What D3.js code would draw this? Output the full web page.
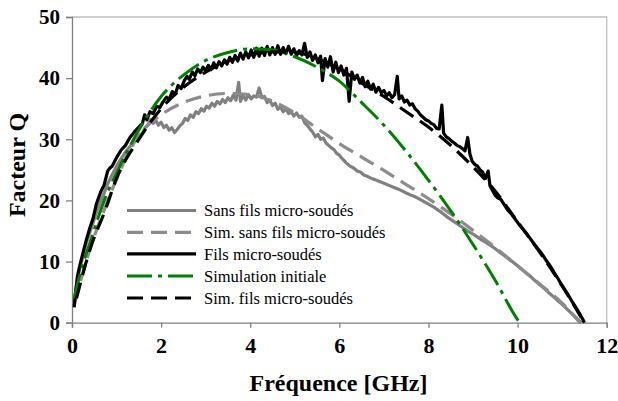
<!DOCTYPE html>
<html><head><meta charset="utf-8">
<script src="https://cdn.jsdelivr.net/npm/d3@7"></script>
<style>body{margin:0;background:#fff}svg{display:block}
svg text{font-family:'Liberation Serif','Times New Roman',serif !important}
</style>
</head><body>
<svg id="c" width="618" height="401"></svg>
<script>
const xTicks = [0,2,4,6,8,10,12];
const yTicks = [0,10,20,30,40,50];
const xTitle = "Fréquence [GHz]";
const yTitle = "Facteur Q";
const seriesNames = ["Sans fils micro-soudés","Sim. sans fils micro-soudés","Fils micro-soudés","Simulation initiale","Sim. fils micro-soudés"];

// [GHz, Q]
const sansFils = [[0.05,3],[0.08,5],[0.12,7],[0.18,9],[0.25,11],[0.32,13],[0.4,14.8],[0.48,16.5],[0.56,18.3],[0.64,19.8],[0.72,21.2],[0.8,22.7],[0.9,24.2],[1.0,25.6],[1.1,26.8],[1.2,27.9],[1.3,28.8],[1.4,29.7],[1.5,30.4],[1.58,31],[1.64,31.9],[1.7,32.3],[1.76,33.2],[1.82,32.6],[1.88,33.1],[1.94,32.3],[2.0,32.8],[2.06,31.9],[2.12,32.3],[2.18,31.5],[2.24,31.9],[2.3,31.1],[2.36,31.6],[2.42,32.2],[2.48,32.6],[2.54,33.4],[2.6,33.1],[2.66,34],[2.72,33.6],[2.78,34.5],[2.84,34.2],[2.9,35],[2.96,34.6],[3.02,35.4],[3.08,35.1],[3.14,35.9],[3.2,35.4],[3.26,36.2],[3.32,35.8],[3.38,36.5],[3.44,36],[3.5,36.8],[3.56,36.3],[3.62,37.2],[3.68,36.4],[3.74,39.3],[3.78,36.2],[3.84,37.2],[3.9,36.4],[3.96,37.3],[4.02,36.6],[4.08,37.1],[4.14,36.9],[4.2,38.4],[4.26,36.8],[4.32,37],[4.38,36],[4.44,36.4],[4.5,35.5],[4.56,35.9],[4.62,34.9],[4.68,35.3],[4.74,34.5],[4.8,35],[4.86,34.2],[4.92,34.5],[4.98,33.8],[5.04,34.3],[5.1,33.6],[5.16,33.8],[5.22,32.7],[5.28,32.3],[5.34,31.7],[5.4,31.2],[5.46,30.4],[5.52,30.8],[5.58,30],[5.64,30.2],[5.7,29.4],[5.76,29],[5.82,28.6],[5.88,28.3],[5.94,27.7],[6.0,27.4],[6.08,26.7],[6.16,26.1],[6.24,25.6],[6.32,25.3],[6.4,24.8],[6.48,24.6],[6.56,24.1],[6.64,23.9],[6.72,23.6],[6.8,23.4],[6.9,23.1],[7.0,22.8],[7.1,22.5],[7.2,22.2],[7.3,21.9],[7.4,21.6],[7.5,21.2],[7.6,20.9],[7.7,20.6],[7.8,20.2],[7.9,19.8],[8.0,19.4],[8.1,19],[8.2,18.5],[8.3,18],[8.4,17.4],[8.5,16.9],[8.6,16.4],[8.7,15.9],[8.8,15.4],[8.9,14.9],[9.0,14.5],[9.1,14],[9.2,13.5],[9.3,13.1],[9.4,12.6],[9.5,12.1],[9.6,11.5],[9.7,11],[9.8,10.4],[9.9,9.9],[10.0,9.3],[10.1,8.7],[10.2,8.1],[10.3,7.5],[10.4,6.8],[10.5,6.2],[10.6,5.6],[10.7,4.9],[10.8,4.3],[10.9,3.6],[11.0,3],[11.1,2.3],[11.2,1.6],[11.3,0.9],[11.4,0.2],[11.43,0]];

const simSansFils = [[0.05,3],[0.2,7],[0.4,12],[0.7,18],[1.0,23.5],[1.3,28.3],[1.6,31.5],[2.0,34],[2.5,36],[3.0,37.1],[3.5,37.5],[4.0,37.3],[4.5,36.2],[5.0,34.3],[5.5,31.8],[6.0,29.3],[6.5,27.1],[7.0,24.9],[7.5,22.6],[8.0,20.3],[8.5,17.8],[9.0,15.1],[9.5,12.3],[10.0,9.3],[10.5,6.3],[11.0,3.2],[11.4,0]];

const fils = [[0.05,2.5],[0.08,5],[0.12,7.5],[0.18,9.5],[0.25,11.5],[0.32,13.5],[0.4,15.5],[0.47,17],[0.55,19.5],[0.6,20.5],[0.65,21.5],[0.72,22.5],[0.8,24.8],[0.85,25.3],[0.9,25.6],[1.0,27],[1.1,28.2],[1.2,29],[1.3,30.3],[1.4,31.2],[1.5,32],[1.58,32.6],[1.63,34],[1.68,33.2],[1.75,34.5],[1.82,34.2],[1.9,35.4],[1.97,35.2],[2.05,36.2],[2.12,36.9],[2.18,36.5],[2.25,37.8],[2.32,37.4],[2.38,38.8],[2.45,38.3],[2.52,39.6],[2.58,40.3],[2.63,39.8],[2.7,41],[2.76,40.4],[2.82,41.5],[2.88,40.9],[2.94,41.8],[3.0,41.2],[3.06,42.1],[3.12,41.4],[3.18,42.5],[3.24,41.7],[3.3,42.7],[3.36,42],[3.42,43],[3.48,42.3],[3.54,43.4],[3.6,42.6],[3.66,43.7],[3.72,42.8],[3.78,44.1],[3.84,43.1],[3.9,44.3],[3.96,43.3],[4.02,44.6],[4.08,43.4],[4.14,44.9],[4.2,43.6],[4.26,44.9],[4.32,43.7],[4.38,45.2],[4.44,43.8],[4.5,45],[4.56,43.9],[4.62,45.3],[4.68,43.9],[4.74,45],[4.8,44],[4.86,45.2],[4.92,43.9],[4.98,44.8],[5.04,43.7],[5.1,44.5],[5.16,43.8],[5.22,45.7],[5.28,43.4],[5.34,44.3],[5.4,42.9],[5.46,43.8],[5.52,42.5],[5.58,43.6],[5.62,39.6],[5.68,43.2],[5.74,41.8],[5.8,43.5],[5.86,41],[5.92,42.6],[5.98,40.9],[6.04,42],[6.1,40.5],[6.16,41.6],[6.22,36.2],[6.28,41],[6.34,39.8],[6.4,40.5],[6.46,39.2],[6.52,40.1],[6.58,38.6],[6.64,39.5],[6.7,38.2],[6.76,39],[6.82,37.7],[6.88,38.5],[6.94,37.6],[7.0,38],[7.06,37.1],[7.12,37.6],[7.18,36.8],[7.24,37.3],[7.3,40.3],[7.34,36.6],[7.4,37.1],[7.46,36.1],[7.52,36.4],[7.58,35.6],[7.64,35.8],[7.7,35],[7.76,34.6],[7.82,34],[7.88,33.6],[7.94,33.2],[8.0,33],[8.06,32.6],[8.12,32.4],[8.18,31.8],[8.24,31.7],[8.3,35.6],[8.34,31],[8.4,30.4],[8.46,30.1],[8.52,29.7],[8.58,29.4],[8.64,29],[8.7,28.8],[8.76,28.5],[8.82,28.1],[8.88,30.3],[8.93,27.6],[8.98,26.4],[9.04,25.9],[9.1,25.6],[9.16,25],[9.22,24.6],[9.28,23.6],[9.34,24.8],[9.38,22.4],[9.44,21.6],[9.5,20.8],[9.56,20.4],[9.62,20.2],[9.7,19.3],[9.78,18.4],[9.86,17.8],[9.94,17],[10.02,16.2],[10.1,15.5],[10.18,14.8],[10.26,14],[10.34,13.2],[10.42,12.4],[10.5,11.7],[10.58,10.9],[10.66,10],[10.74,9.2],[10.82,8.2],[10.9,7.3],[10.98,6.3],[11.06,5.4],[11.14,4.5],[11.22,3.5],[11.3,2.6],[11.38,1.6],[11.46,0.6],[11.5,0]];

const simInitiale = [[0.05,4],[0.2,8.5],[0.4,13],[0.75,20.5],[1.0,24.5],[1.5,31.5],[2.0,37],[2.5,40.5],[3.0,42.9],[3.5,44.2],[4.0,44.8],[4.5,44.6],[5.0,43.5],[5.5,41.8],[6.0,39.5],[6.5,36],[7.0,32.3],[7.5,28],[8.0,23.3],[8.5,18.3],[9.0,12.8],[9.5,6.9],[10.0,0.5],[10.05,0]];

const simFils = [[0.1,4],[0.4,11.9],[0.75,18.5],[1.0,23.6],[1.5,30],[2.0,35],[2.5,38.5],[3.0,41],[3.5,42.8],[4.0,43.8],[4.5,44.3],[5.0,44.2],[5.5,43.2],[6.0,41.5],[6.5,39.2],[7.0,37],[7.5,34.5],[8.0,32],[8.5,29],[9.0,25.5],[9.5,21.5],[10.0,16.5],[10.5,11.5],[11.0,6],[11.5,0]];

const x = d3.scaleLinear().domain([0,12]).range([72, 606.7]);
const y = d3.scaleLinear().domain([0,50]).range([322.7, 17]);
const svg = d3.select("#c");
const fontCss = (size, bold) => `font-family:'Liberation Serif','Times New Roman',serif !important;font-size:${size}px;font-weight:${bold?"bold":"normal"}`;

svg.append("path")
  .attr("d", `M${x(0)},${y(50)}H${x(12)}V${y(0)}`)
  .attr("fill","none").attr("stroke","#c0c0c0").attr("stroke-width",1.3);

const yAxis = svg.append("g").attr("transform",`translate(${x(0)},0)`)
  .call(d3.axisLeft(y).tickValues(yTicks).tickSize(6).tickPadding(6).tickFormat(d3.format("d")));
const xAxis = svg.append("g").attr("transform",`translate(0,${y(0)})`)
  .call(d3.axisBottom(x).tickValues(xTicks).tickSize(5).tickPadding(10).tickFormat(d3.format("d")));
[yAxis,xAxis].forEach(g=>{
  g.attr("font-family", "Liberation Serif").attr("font-size", null);
  g.select(".domain").attr("stroke","#808080").attr("stroke-width",1.3);
  g.selectAll(".tick line").attr("stroke","#808080").attr("stroke-width",1.3);
  g.selectAll("text").attr("fill","#000").attr("font-family","Liberation Serif");
});
yAxis.selectAll("text").attr("style", fontCss(21,true));
xAxis.selectAll("text").attr("style", fontCss(22,true));

const line = d3.line().x(d=>x(d[0])).y(d=>y(d[1]));
const smooth = d3.line().x(d=>x(d[0])).y(d=>y(d[1])).curve(d3.curveMonotoneX);

const styles = [
  {data:sansFils, gen:line, color:"#808080", dash:null, w:3.2},
  {data:simSansFils, gen:smooth, color:"#8c8c8c", dash:"16,8", w:3.2},
  {data:fils, gen:line, color:"#000", dash:null, w:3.2},
  {data:simInitiale, gen:smooth, color:"#008000", dash:"25,6,4,6", w:3},
  {data:simFils, gen:smooth, color:"#000", dash:"16,8", w:3.2}
];
styles.forEach(s=>{
  svg.append("path").attr("d", s.gen(s.data)).attr("fill","none")
    .attr("stroke", s.color).attr("stroke-width", s.w)
    .attr("stroke-linejoin","round")
    .attr("stroke-dasharray", s.dash);
});

const legY = [210.5, 232.3, 253.8, 276, 298];
styles.forEach((s,i)=>{
  svg.append("line").attr("x1",127).attr("x2",196).attr("y1",legY[i]).attr("y2",legY[i])
    .attr("stroke",s.color).attr("stroke-width",s.w).attr("stroke-dasharray",s.dash);
  svg.append("text").attr("x",204).attr("y",legY[i]).attr("dy","0.35em")
    .attr("font-family","Liberation Serif")
    .attr("style", fontCss(16.5,false)).attr("fill","#000").text(seriesNames[i]);
});

svg.append("text").attr("x",338.5).attr("y",391).attr("text-anchor","middle")
  .attr("font-family","Liberation Serif")
  .attr("style", fontCss(24,true)).text(xTitle);
svg.append("text").attr("transform","translate(25,165) rotate(-90)").attr("text-anchor","middle")
  .attr("font-family","Liberation Serif")
  .attr("style", fontCss(24,true)).text(yTitle);
</script>
</body></html>
